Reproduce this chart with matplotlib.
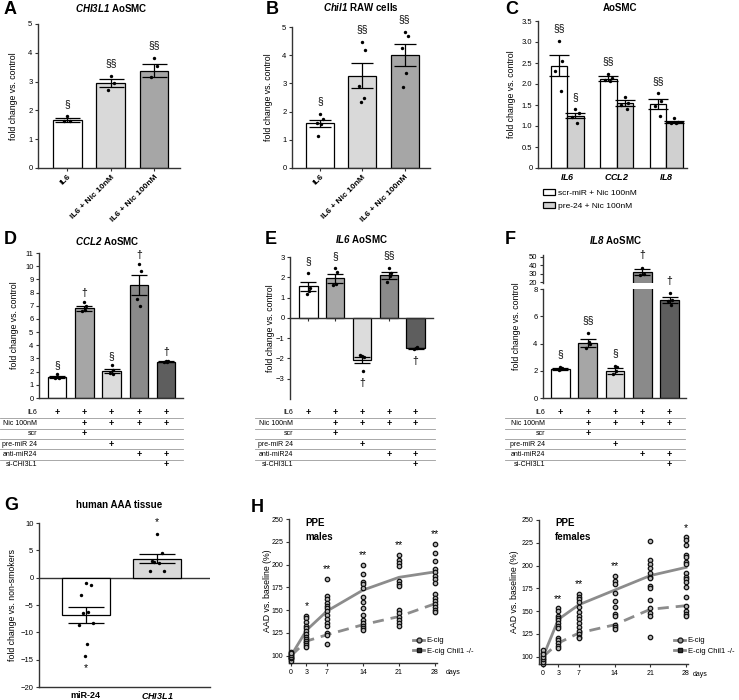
import numpy as np
import matplotlib
matplotlib.use('Agg')
import matplotlib.pyplot as plt
from matplotlib.lines import Line2D
from matplotlib.patches import Patch
from matplotlib.transforms import blended_transform_factory

plt.rcParams['font.family'] = ['Liberation Sans', 'DejaVu Sans']
plt.rcParams['mathtext.fontset'] = 'custom'
plt.rcParams['mathtext.it'] = 'Liberation Sans:italic:bold'
plt.rcParams['mathtext.rm'] = 'Liberation Sans:italic:bold'
plt.rcParams['mathtext.bf'] = 'Liberation Sans:bold'

# ---- data -------------------------------------------------------------
# A: CHI3L1 in AoSMC
A_GROUPS = ['IL6', 'IL6 + Nic 10nM', 'IL6 + Nic 100nM']
A_MEAN = [1.68, 2.95, 3.38]
A_SEM = [0.07, 0.15, 0.23]
A_POINTS = [[1.80, 1.62, 1.63], [3.20, 2.95, 2.70], [3.82, 3.55, 3.15]]
A_SIG = ['§', '§§', '§§']

# B: Chil1 in RAW cells
B_MEAN = [1.58, 3.28, 4.00]
B_SEM = [0.13, 0.45, 0.38]
B_POINTS = [[1.92, 1.75, 1.60, 1.55, 1.12],
            [4.48, 4.18, 2.92, 2.48, 2.33],
            [4.82, 4.67, 4.25, 3.38, 2.87]]
B_SIG = ['§', '§§', '§§']

# C: AoSMC, scr-miR vs pre-24
C_GENES = ['IL6', 'CCL2', 'IL8']
C_SERIES = ['scr-miR + Nic 100nM', 'pre-24 + Nic 100nM']
C_SCR_MEAN = [2.43, 2.13, 1.53]
C_SCR_SEM = [0.25, 0.05, 0.12]
C_SCR_POINTS = [[3.03, 2.55, 2.30, 1.83], [2.25, 2.15, 2.10, 2.08], [1.78, 1.60, 1.48, 1.23]]
C_SCR_SIG = ['§§', '§§', '§§']
C_PRE_MEAN = [1.25, 1.55, 1.09]
C_PRE_SEM = [0.07, 0.07, 0.03]
C_PRE_POINTS = [[1.40, 1.30, 1.22, 1.08], [1.70, 1.55, 1.50, 1.40], [1.18, 1.10, 1.08, 1.06]]
C_PRE_SIG = ['§', '', '']

# D: CCL2 AoSMC
D_MEAN = [1.60, 6.80, 2.05, 8.60, 2.75]
D_SEM = [0.10, 0.20, 0.12, 0.75, 0.02]
D_POINTS = [[1.80, 1.55, 1.48, 1.62], [7.30, 7.00, 6.60, 6.65], [2.50, 2.15, 1.90, 1.85],
            [10.2, 9.60, 7.50, 7.00], [2.78, 2.78, 2.76, 2.75]]
D_SIG = ['§', '†', '§', '†', '†']

# E: IL6 AoSMC
E_MEAN = [1.55, 1.95, -2.10, 2.10, -1.50]
E_SEM = [0.22, 0.22, 0.15, 0.18, 0.02]
E_POINTS = [[2.20, 1.45, 1.20, 1.30], [2.45, 2.25, 1.60, 1.65], [-1.90, -1.95, -1.85, -2.60],
            [2.48, 2.20, 1.75, 2.05], [-1.48, -1.50, -1.52, -1.46]]
E_SIG = ['§', '§', '†', '§§', '†']

# F: IL8 AoSMC (broken axis)
F_MEAN = [2.10, 4.05, 2.00, 32.0, 7.20]
F_SEM = [0.08, 0.30, 0.22, 3.0, 0.20]
F_POINTS = [[2.30, 2.20, 2.05, 2.10], [4.80, 4.00, 3.70, 4.10], [2.35, 2.25, 1.75, 1.95],
            [37.0, 30.0, 28.0], [7.70, 7.20, 7.10, 6.85]]
F_SIG = ['§', '§§', '§', '†', '†']

# treatment table under D-F
TABLE_LABELS = ['IL6', 'Nic 100nM', 'scr', 'pre-miR 24', 'anti-miR24', 'si-CHI3L1']
TABLE_MARKS = [[1, 1, 1, 1, 1],
               [0, 1, 1, 1, 1],
               [0, 1, 0, 0, 0],
               [0, 0, 1, 0, 0],
               [0, 0, 0, 1, 1],
               [0, 0, 0, 0, 1]]

# G: human AAA tissue
G_GROUPS = ['miR-24', r'$\mathit{CHI3L1}$']
G_MEAN = [-6.8, 3.5]
G_SEM = [1.5, 0.85]
G_POINTS = [[-1.0, -1.4, -3.1, -6.2, -6.4, -8.3, -8.6, -12.2, -14.3],
            [7.9, 4.5, 3.0, 2.6, 2.9, 1.3, 1.3]]
G_SIG = ['*', '*']

# H: PPE aneurysm growth
H_DAYS = [0, 3, 7, 14, 21, 28]
HM_ECIG_MEAN = [100, 128, 149, 172, 186, 192]
HM_KO_MEAN = [100, 116, 123, 134, 143, 157]
HM_ECIG_POINTS = [[96, 98, 100, 102, 104],
                  [144, 141, 137, 133, 130, 127, 124, 121],
                  [184, 165, 162, 158, 155, 152, 149, 145, 140],
                  [200, 190, 181, 179, 174, 164, 159, 152, 145],
                  [211, 205, 202, 198, 182, 179, 176],
                  [223, 213, 204, 195, 192, 188, 184, 180, 168, 163, 160]]
HM_KO_POINTS = [[94, 97, 99, 101, 103],
                [118, 116, 114, 112, 110],
                [136, 133, 125, 123, 113],
                [139, 136, 133, 130, 128],
                [150, 147, 143, 139, 136, 133],
                [157, 153, 150, 148]]
HM_SIG = ['', '*', '**', '**', '**', '**']

HF_ECIG_MEAN = [100, 141, 157, 173, 189, 198]
HF_KO_MEAN = [100, 115, 126, 135, 152, 156]
HF_ECIG_POINTS = [[95, 98, 101, 104, 107],
                  [153, 150, 145, 143, 140, 137, 134, 132],
                  [169, 166, 163, 160, 155, 149, 145, 141, 137],
                  [189, 183, 180, 170, 161, 155],
                  [227, 206, 202, 197, 192, 188, 186, 178, 175, 162],
                  [231, 228, 223, 212, 209, 204, 202, 192, 188, 185, 182, 176, 165]]
HF_KO_POINTS = [[92, 94, 97, 100, 103],
                [121, 118, 115, 112, 110],
                [133, 128, 125, 122, 120],
                [147, 145, 135, 133, 130],
                [153, 148, 145, 122],
                [156, 150, 147, 145]]
HF_SIG = ['', '**', '**', '**', '', '*']

# ---- style ------------------------------------------------------------
W, H = 739, 700
AXIS_COLOR = '#333333'
COLORS_3 = ['white', '#d9d9d9', '#a6a6a6']
COLORS_5 = ['white', '#a6a6a6', '#dcdcdc', '#8a8a8a', '#5e5e5e']
LINE_GRAY = '#8c8c8c'
TICK_FS = 5.5
LABEL_FS = 6.3
TITLE_FS = 7
SIG_FS = 7.5

fig = plt.figure(figsize=(W / 100, H / 100), dpi=100)


def px_axes(x0, y0, x1, y1):
    ax = fig.add_axes([x0 / W, 1 - y1 / H, (x1 - x0) / W, (y1 - y0) / H])
    ax.patch.set_visible(False)
    return ax


def ptext(x, y, s, **kw):
    return fig.text(x / W, 1 - y / H, s, **kw)


def style_axes(ax):
    for side in ['top', 'right']:
        ax.spines[side].set_visible(False)
    for side in ['left', 'bottom']:
        ax.spines[side].set_color(AXIS_COLOR)
        ax.spines[side].set_linewidth(1.0)
    ax.tick_params(length=2.5, width=0.8, pad=1.5, labelsize=TICK_FS, color=AXIS_COLOR)


def ylabel_at(ax, text, x_px, y_px=None):
    bb = ax.get_position()
    ax.set_ylabel(text, fontsize=LABEL_FS)
    yc = 0.5 if y_px is None else ((1 - y_px / H) - bb.y0) / bb.height
    ax.yaxis.set_label_coords((x_px / W - bb.x0) / bb.width, yc)


def jitter(n):
    pattern = np.array([0, 0.07, -0.07, 0.035, -0.035, 0.1, -0.1, 0.015, -0.015, 0.05, -0.05])
    return pattern[:n]


def bars(ax, x, means, sems, points, colors, width, capsize):
    ax.bar(x, means, width=width, color=colors, edgecolor='black', linewidth=0.9, zorder=2)
    ax.errorbar(x, means, yerr=sems, fmt='none', ecolor='black', elinewidth=0.9,
                capsize=capsize, capthick=0.9, zorder=4)
    for xi, pts in zip(x, points):
        ax.scatter(xi + jitter(len(pts)), pts, s=6, color='black', linewidths=0, zorder=3)


def sig(ax, x, means, sems, points, labels, offset=9, only=None):
    for i, (xi, m, s, pts, lab) in enumerate(zip(x, means, sems, points, labels)):
        if not lab or (only is not None and i not in only):
            continue
        if m >= 0:
            y, dy = max(max(pts), m + s), offset
        else:
            y, dy = min(min(pts), m - s), -offset
        ax.annotate(lab, (xi, y), xytext=(0, dy), textcoords='offset points',
                    ha='center', va='center', fontsize=SIG_FS, annotation_clip=False, zorder=6)


def table(ax, x, label_right, line_left, line_right, top=413, pitch=10.4):
    trans = blended_transform_factory(ax.transData, fig.transFigure)
    for i, (lab, marks) in enumerate(zip(TABLE_LABELS, TABLE_MARKS)):
        y = top + i * pitch
        ptext(label_right, y, lab, ha='right', va='center', fontsize=5.0)
        for xi, m in zip(x, marks):
            if m:
                ax.text(xi, 1 - y / H, '+', transform=trans, ha='center', va='center',
                        fontsize=6.5, fontweight='bold')
        if i < len(TABLE_LABELS) - 1:
            yl = 1 - (y + pitch / 2) / H
            fig.add_artist(Line2D([line_left / W, line_right / W], [yl, yl],
                                  transform=fig.transFigure, color='#9a9a9a', lw=0.6))


# ---- A ----------------------------------------------------------------
x3 = np.arange(3)
ax = px_axes(38, 24, 180, 168)
style_axes(ax)
bars(ax, x3, A_MEAN, A_SEM, A_POINTS, COLORS_3, 0.667, 9)
sig(ax, x3, A_MEAN, A_SEM, A_POINTS, A_SIG)
ax.set_xlim(-0.68, 2.6)
ax.set_ylim(0, 5)
ax.set_yticks(range(0, 6))
ax.set_xticks(x3)
ax.set_xticklabels(A_GROUPS, rotation=45, ha='right', rotation_mode='anchor',
                   fontsize=6, fontweight='bold')
ylabel_at(ax, 'fold change vs. control', 18)
ptext(111, 8, r'$\mathit{CHI3L1}$ AoSMC', ha='center', va='center', fontsize=TITLE_FS, fontweight='bold')

# ---- B ----------------------------------------------------------------
ax = px_axes(292, 27, 430, 168)
style_axes(ax)
bars(ax, x3, B_MEAN, B_SEM, B_POINTS, COLORS_3, 0.66, 8)
sig(ax, x3, B_MEAN, B_SEM, B_POINTS, B_SIG)
ax.set_xlim(-0.66, 2.6)
ax.set_ylim(0, 5)
ax.set_yticks(range(0, 6))
ax.set_xticks(x3)
ax.set_xticklabels(A_GROUPS, rotation=45, ha='right', rotation_mode='anchor',
                   fontsize=6, fontweight='bold')
ylabel_at(ax, 'fold change vs. control', 273)
ptext(361, 7, r'$\mathit{Chil1}$ RAW cells', ha='center', va='center', fontsize=TITLE_FS, fontweight='bold')

# ---- C ----------------------------------------------------------------
ax = px_axes(538, 21, 687, 168)
style_axes(ax)
bw = 0.333
bars(ax, x3 - bw / 2, C_SCR_MEAN, C_SCR_SEM, C_SCR_POINTS, ['white'] * 3, bw, 7)
bars(ax, x3 + bw / 2, C_PRE_MEAN, C_PRE_SEM, C_PRE_POINTS, ['#d0d0d0'] * 3, bw, 7)
sig(ax, x3 - bw / 2, C_SCR_MEAN, C_SCR_SEM, C_SCR_POINTS, C_SCR_SIG)
sig(ax, x3 + bw / 2, C_PRE_MEAN, C_PRE_SEM, C_PRE_POINTS, C_PRE_SIG)
ax.set_xlim(-0.59, 2.42)
ax.set_ylim(0, 3.5)
ax.set_yticks(np.arange(0, 3.51, 0.5))
ax.set_yticklabels([f'{v:.1f}' if v > 0 else '0' for v in np.arange(0, 3.51, 0.5)])
ax.set_xticks(x3)
ax.set_xticklabels([rf'$\mathit{{{g}}}$' for g in C_GENES], fontsize=6.5)
ax.tick_params(axis='x', length=0, pad=3)
ylabel_at(ax, 'fold change vs. control', 516)
ptext(620, 8, 'AoSMC', ha='center', va='center', fontsize=TITLE_FS, fontweight='bold')
fig.legend([Patch(facecolor='white', edgecolor='black', lw=0.9),
            Patch(facecolor='#d0d0d0', edgecolor='black', lw=0.9)], C_SERIES,
           loc='upper left', bbox_to_anchor=(543 / W, 1 - 189 / H), frameon=False,
           fontsize=6, handlelength=1.4, handleheight=0.7, handletextpad=0.4,
           labelspacing=0.65, borderpad=0, borderaxespad=0)

# ---- D ----------------------------------------------------------------
x5 = np.arange(5)
ax = px_axes(39, 253, 183, 398)
style_axes(ax)
bars(ax, x5, D_MEAN, D_SEM, D_POINTS, COLORS_5, 0.68, 6)
sig(ax, x5, D_MEAN, D_SEM, D_POINTS, D_SIG, offset=6.5)
ax.set_xlim(-0.66, 4.62)
ax.set_ylim(0, 11)
ax.set_yticks(range(0, 12))
ax.set_xticks([])
ylabel_at(ax, 'fold change vs. control', 19)
ptext(107, 241, r'$\mathit{CCL2}$ AoSMC', ha='center', va='center', fontsize=TITLE_FS, fontweight='bold')
table(ax, x5, 37, 0, 183)

# ---- E ----------------------------------------------------------------
ax = px_axes(290, 257, 433, 399)
style_axes(ax)
bars(ax, x5, E_MEAN, E_SEM, E_POINTS, COLORS_5, 0.69, 6)
sig(ax, x5, E_MEAN, E_SEM, E_POINTS, E_SIG)
ax.set_xlim(-0.69, 4.65)
ax.set_ylim(-4, 3)
ax.set_yticks(range(-3, 4))
ax.spines['bottom'].set_position(('data', 0))
ax.set_xticks(x5)
ax.set_xticklabels([])
ylabel_at(ax, 'fold change vs. control', 275)
ptext(362, 239, r'$\mathit{IL6}$ AoSMC', ha='center', va='center', fontsize=TITLE_FS, fontweight='bold')
table(ax, x5, 293, 255, 435)

# ---- F (broken axis) --------------------------------------------------
axb = px_axes(543, 289, 686, 398)
axt = px_axes(543, 255, 686, 283)
for a in (axb, axt):
    style_axes(a)
    bars(a, x5, F_MEAN, F_SEM, F_POINTS, COLORS_5, 0.69, 6)
    a.set_xlim(-0.64, 4.6)
axt.spines['bottom'].set_visible(False)
axt.set_xticks([])
axt.set_ylim(19, 52)
axt.set_yticks([20, 30, 40, 50])
axb.set_ylim(0, 8)
axb.set_yticks([0, 2, 4, 6, 8])
axb.set_xticks([])
sig(axb, x5, F_MEAN, F_SEM, F_POINTS, F_SIG, only=[0, 1, 2, 4])
sig(axt, x5, F_MEAN, F_SEM, F_POINTS, F_SIG, only=[3])
ylabel_at(axb, 'fold change vs. control', 521, 326)
ptext(616, 240, r'$\mathit{IL8}$ AoSMC', ha='center', va='center', fontsize=TITLE_FS, fontweight='bold')
table(axb, x5, 545, 505, 685)

# ---- G ----------------------------------------------------------------
x2 = np.arange(2)
ax = px_axes(39, 523, 210, 687)
style_axes(ax)
bars(ax, x2, G_MEAN, G_SEM, G_POINTS, ['white', '#d9d9d9'], 0.676, 13)
sig(ax, x2, G_MEAN, G_SEM, G_POINTS, G_SIG)
ax.axhline(0, color=AXIS_COLOR, lw=1.0, zorder=1)
ax.set_xlim(-0.66, 1.75)
ax.set_ylim(-20, 10)
ax.set_yticks(range(-20, 11, 5))
ax.set_xticks(x2)
ax.set_xticklabels(G_GROUPS, fontsize=6.5, fontweight='bold')
ax.tick_params(axis='x', length=0, pad=3)
ylabel_at(ax, 'fold change vs. non-smokers', 17)
ptext(119, 505, 'human AAA tissue', ha='center', va='center', fontsize=TITLE_FS, fontweight='bold')


# ---- H ----------------------------------------------------------------
def growth(ax, ecig_mean, ko_mean, ecig_pts, ko_pts, sigs, days_x, sex, text_x, legend_x, ylab_x):
    style_axes(ax)
    ax.tick_params(labelsize=5.0)
    ax.plot(H_DAYS, ecig_mean, color=LINE_GRAY, lw=2.0, zorder=2)
    ax.plot(H_DAYS, ko_mean, color=LINE_GRAY, lw=2.0, ls=(0, (4, 2.5)), zorder=2)
    for d, pe, pk, s in zip(H_DAYS, ecig_pts, ko_pts, sigs):
        ax.plot([d] * len(pe), pe, 'o', ms=3.2, mfc='#b5b5b5', mec='#111111', mew=0.9, zorder=3,
                clip_on=False)
        ax.plot([d] * len(pk), pk, 'o', ms=3.2, mfc='#b5b5b5', mec='#111111', mew=0.9, zorder=3,
                clip_on=False)
        if s:
            ax.annotate(s, (d, max(pe)), xytext=(0, 7), textcoords='offset points',
                        ha='center', va='center', fontsize=SIG_FS, annotation_clip=False)
    ax.set_ylim(92, 250)
    ax.set_yticks(range(100, 251, 25))
    ax.set_xticks(H_DAYS)
    ylabel_at(ax, 'AAD vs. baseline (%)', ylab_x)
    bb = ax.get_position()
    ptext(days_x, (1 - bb.y0) * H + 10, 'days', ha='left', va='center', fontsize=5.0)
    ptext(text_x, 530, 'PPE\n' + sex, ha='left', va='center', fontsize=TITLE_FS,
          fontweight='bold', linespacing=1.5)
    handles = [Line2D([], [], color=LINE_GRAY, lw=2, marker='o', ms=3.5, mfc='#9a9a9a', mec='#222222'),
               Line2D([], [], color=LINE_GRAY, lw=2, marker='s', ms=3.5, mfc='#333333', mec='#111111')]
    fig.legend(handles, ['E-cig', 'E-cig Chil1 -/-'], loc='upper left',
               bbox_to_anchor=(legend_x / W, 1 - 637 / H), frameon=False, fontsize=5.5,
               handlelength=1.5, handletextpad=0.3, labelspacing=0.45, borderpad=0, borderaxespad=0)


axm = px_axes(289, 519, 437, 663)
axm.set_xlim(-0.4, 28.4)
growth(axm, HM_ECIG_MEAN, HM_KO_MEAN, HM_ECIG_POINTS, HM_KO_POINTS, HM_SIG, 446, 'males', 305, 413, 272)

axf = px_axes(539, 520, 688, 664)
axf.set_xlim(-0.8, 28.4)
growth(axf, HF_ECIG_MEAN, HF_KO_MEAN, HF_ECIG_POINTS, HF_KO_POINTS, HF_SIG, 693, 'females', 555, 674, 519)

# ---- panel letters ----------------------------------------------------
for letter, x, y in [('A', 4, 9), ('B', 266, 9), ('C', 505, 9), ('D', 4, 239), ('E', 265, 239),
                     ('F', 505, 239), ('G', 4, 506), ('H', 251, 508)]:
    ptext(x, y, letter, ha='left', va='center', fontsize=13, fontweight='bold')

fig.savefig('out.png', dpi=100)
